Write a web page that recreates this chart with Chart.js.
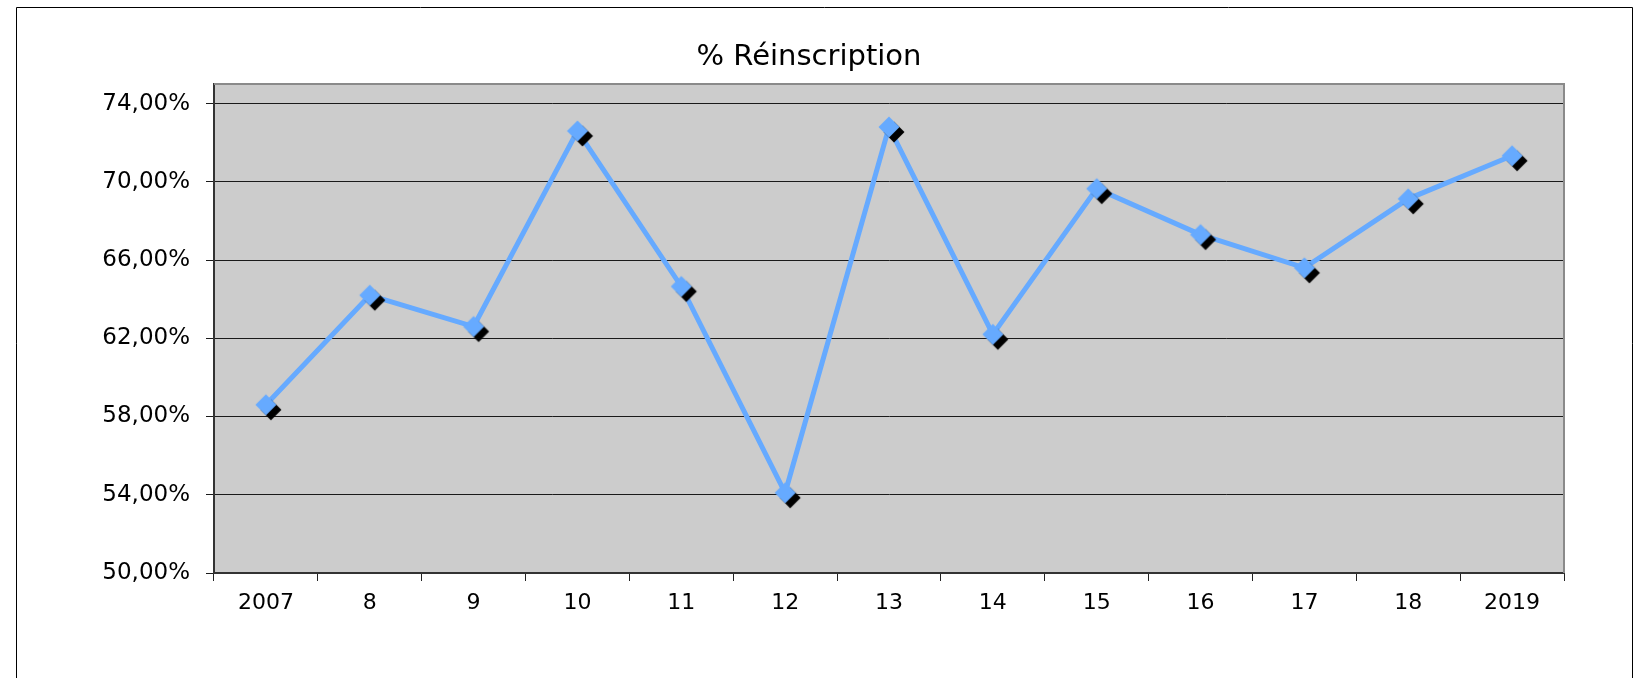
<!DOCTYPE html>
<html><head><meta charset="utf-8">
<script src="https://cdn.jsdelivr.net/npm/chart.js@4.4.0/dist/chart.umd.min.js"></script>
<style>html,body{margin:0;padding:0;background:#fff;} canvas{display:block;}</style>
</head><body>
<canvas id="c" width="1645" height="678"></canvas>
<script>
const chartTitle = '% Réinscription';
const categories = ['2007','8','9','10','11','12','13','14','15','16','17','18','2019'];
const reinscription = [58.6, 64.2, 62.6, 72.6, 64.65, 54.1, 72.8, 62.2, 69.65, 67.3, 65.6, 69.13, 71.33];
const yTicks = [50, 54, 58, 62, 66, 70, 74];
const yMin = 50, yMax = 75;

const FONT = '"DejaVu Sans", Verdana, sans-serif';
const BLUE = '#66aaff';

// diamond marker with black drop shadow
function makeMarker() {
  const c = document.createElement('canvas');
  c.width = 36; c.height = 36;
  const g = c.getContext('2d');
  const d = (cx, cy, r, col) => {
    g.beginPath();
    g.moveTo(cx - r, cy); g.lineTo(cx, cy - r); g.lineTo(cx + r, cy); g.lineTo(cx, cy + r);
    g.closePath(); g.fillStyle = col; g.fill();
  };
  d(18 + 5, 18 + 5, 10.5, '#000');
  d(18, 18, 10.5, BLUE);
  return c;
}

const decor = {
  id: 'decor',
  beforeDraw(chart) {
    const {ctx, chartArea: a} = chart;
    ctx.save();
    ctx.fillStyle = '#fff';
    ctx.fillRect(0, 0, chart.width, chart.height);
    ctx.fillStyle = '#cccccc';
    ctx.fillRect(a.left, a.top, a.right - a.left, a.bottom - a.top);
    ctx.restore();
  },
  beforeDatasetsDraw(chart) {
    const {ctx, chartArea: a} = chart;
    ctx.save();
    ctx.strokeStyle = '#8a8a8a';
    ctx.lineWidth = 2;
    ctx.beginPath();
    ctx.moveTo(a.left, a.top); ctx.lineTo(a.right, a.top); ctx.lineTo(a.right, a.bottom);
    ctx.stroke();
    ctx.restore();
  },
  afterDraw(chart) {
    const ctx = chart.ctx;
    ctx.save();
    ctx.strokeStyle = '#000';
    ctx.lineWidth = 1;
    ctx.beginPath();
    ctx.moveTo(16.5, 700); ctx.lineTo(16.5, 7.5); ctx.lineTo(1632.5, 7.5); ctx.lineTo(1632.5, 700);
    ctx.stroke();
    ctx.fillStyle = '#000';
    ctx.font = '29px ' + FONT;
    ctx.textAlign = 'center';
    ctx.textBaseline = 'alphabetic';
    ctx.fillText(chartTitle, 809, 65);
    ctx.restore();
  }
};

new Chart(document.getElementById('c'), {
  type: 'line',
  data: {
    labels: categories,
    datasets: [{
      label: chartTitle,
      data: reinscription,
      borderColor: BLUE,
      borderWidth: 5,
      pointStyle: makeMarker(),
      pointRadius: 11,
      pointHoverRadius: 11,
      tension: 0,
      fill: false
    }]
  },
  options: {
    responsive: false,
    animation: false,
    events: [],
    layout: { padding: { top: 84, right: 81, left: 0, bottom: 0 } },
    plugins: { legend: { display: false }, title: { display: false }, tooltip: { enabled: false } },
    scales: {
      x: {
        offset: true,
        afterFit(s) { s.height = 105; },
        grid: { offset: true, drawOnChartArea: false, drawTicks: true, tickLength: 8, color: '#222', tickColor: '#222' },
        border: { display: true, color: '#333', width: 2 },
        ticks: { color: '#000', font: { family: FONT, size: 22 }, padding: 9, maxRotation: 0, autoSkip: false }
      },
      y: {
        min: yMin, max: yMax,
        afterFit(s) { s.width = 214; },
        afterBuildTicks(s) { s.ticks = yTicks.map(v => ({ value: v })); },
        grid: { color: '#1a1a1a', lineWidth: 1, tickLength: 8, tickColor: '#1a1a1a' },
        border: { display: true, color: '#333', width: 2 },
        ticks: {
          color: '#000', font: { family: FONT, size: 23 }, padding: 16,
          callback: v => v.toFixed(2).replace('.', ',') + '%'
        }
      }
    }
  },
  plugins: [decor]
});
</script>
</body></html>
